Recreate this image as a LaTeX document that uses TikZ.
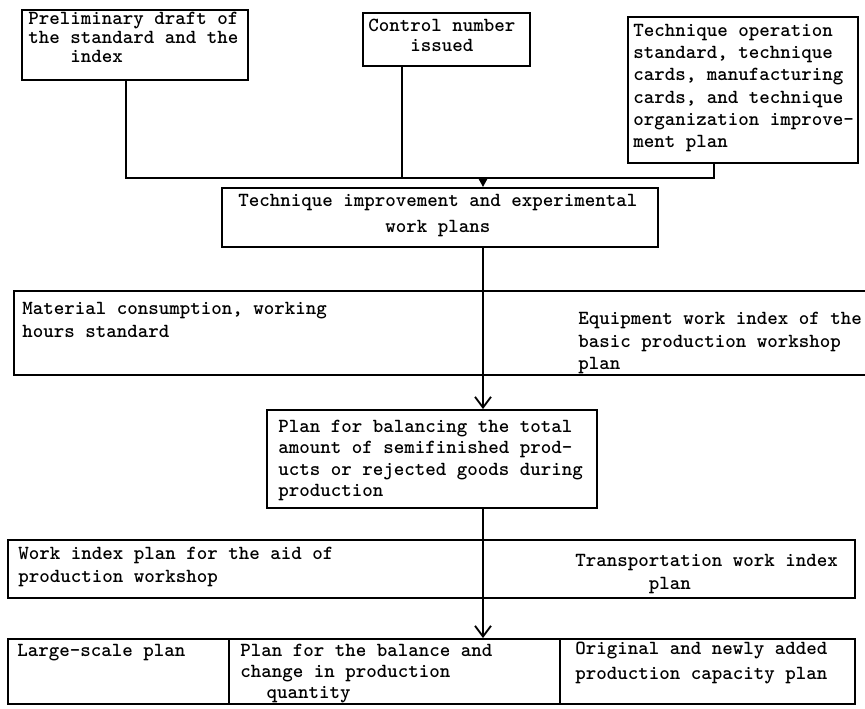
\documentclass[tikz,border=0pt]{standalone}
\usetikzlibrary{fit,arrows.meta}
\newcommand\myindent[1]{\hspace*{#1\fontcharwd\font`x}}
\tikzset{
  box/.style={draw, line width=1.4pt, inner sep=0pt},
  txt/.style={anchor=north west, inner sep=0pt, align=left, font=\ttfamily\bfseries\fontsize{15}{#1}\selectfont},
  txt/.default=16,
  conn/.style={line width=1.4pt},
  barb/.style={conn, -{Straight Barb[length=8pt,width=12pt,line width=1.4pt]}},
  tri/.style={conn, -{Triangle[length=6pt,width=6pt]}}
}
\begin{document}
\begin{tikzpicture}[x=0.75pt,y=-0.75pt]
\useasboundingbox (0,0) rectangle (865,709);
% boxes
\node[box, fit={(22,10) (248,80)}] (A) {};
\node[box, fit={(363,13) (530,66)}] (B) {};
\node[box, fit={(628,17) (858,163)}] (C) {};
\node[box, fit={(222,188) (658,247)}] (T) {};
\node[box, fit={(14,291) (870,375)}] (D) {};
\node[box, fit={(267,410) (597,508)}] (P) {};
\node[box, fit={(8,540) (855,598)}] (E) {};
\node[box, fit={(8,639) (855,704)}] (F) {};
\coordinate (d1) at (229,639);
\coordinate (d2) at (560,639);
\draw[conn] (d1) -- (d1 |- F.south);
\draw[conn] (d2) -- (d2 |- F.south);
% texts
\node[txt=14.25] (tA) at (28,12) {Preliminary draft of\\the standard and the\\\myindent{4}index};
\node[txt=15] (tB) at (368,19) {Control number\\\myindent{4}issued};
\node[txt=16.65] (tC) at (633,24) {Technique operation\\standard, technique\\cards, manufacturing\\cards, and technique\\organization improve-\\ment plan};
\node[txt=19.5] (tT) at (238,194) {Technique improvement and experimental\\\myindent{14}work plans};
\node[txt=17.25] (tD1) at (22,302) {Material consumption, working\\hours standard};
\node[txt=16.9] (tD2) at (578,312) {Equipment work index of the\\basic production workshop\\plan};
\node[txt=16] (tP) at (278,420) {Plan for balancing the total\\amount of semifinished prod-\\ucts or rejected goods during\\production};
\node[txt=17.25] (tE1) at (18,547) {Work index plan for the aid of\\production workshop};
\node[txt=17.25] (tE2) at (575,554) {Transportation work index\\\myindent{7}plan};
\node[txt] (tF1) at (17,644) {Large-scale plan};
\node[txt=15.75] (tF2) at (240,644) {Plan for the balance and\\change in production\\\myindent{2.5}quantity};
\node[txt=18.75] (tF3) at (575,642) {Original and newly added\\production capacity plan};
% connectors
\coordinate (jA) at (126,178);
\coordinate (jB) at (402,178);
\coordinate (jT) at (483,178);
\coordinate (jC) at (714,178);
\draw[conn] (A.south -| jA) -- (jA) -- (jC) -- (C.south -| jC);
\draw[conn] (B.south -| jB) -- (jB);
\draw[tri] (jT) -- (T.north -| jT);
\draw[barb] (T.south -| jT) -- (P.north -| jT);
\draw[barb] (P.south -| jT) -- (F.north -| jT);
\end{tikzpicture}
\end{document}
